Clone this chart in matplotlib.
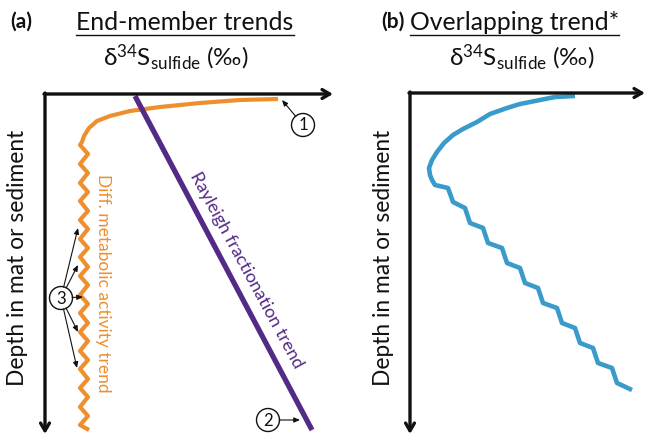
import matplotlib
matplotlib.use("Agg")
import matplotlib.pyplot as plt
from matplotlib.patches import Circle
from matplotlib.lines import Line2D

plt.rcParams['font.family'] = ['Lato', 'DejaVu Sans']
plt.rcParams['mathtext.fontset'] = 'custom'
plt.rcParams['mathtext.rm'] = 'Lato'
plt.rcParams['mathtext.it'] = 'Lato:italic'
plt.rcParams['mathtext.bf'] = 'Lato:bold'
plt.rcParams['mathtext.fallback'] = 'stixsans'

ORANGE = '#EE8F2D'
PURPLE = '#532A85'
BLUE = '#3A9BCB'
INK = '#111111'

# ---- data: schematic depth profiles (x = delta34S, y = depth; arbitrary units)
# (a) differential metabolic activity trend: smooth top part, then zigzag
orange_x = [233, 195, 155, 115, 85, 65, 52, 44, 39, 37, 35,
            43, 35, 43, 35, 43, 35, 43, 35, 43, 35, 43, 35, 43, 35, 43,
            35, 43, 35, 43, 35, 43, 35, 43, 35, 43, 35, 43, 35, 43, 35, 44]
orange_y = [5, 6, 9, 13, 17, 22, 27, 34, 42, 48, 51,
            60, 70, 79, 89, 98, 107, 117, 126, 135, 145, 154, 163, 173,
            182, 191, 201, 210, 219, 229, 238, 247, 257, 266, 275, 285,
            294, 303, 313, 322, 331, 336]

# (a) Rayleigh fractionation trend
purple_x = [90, 267]
purple_y = [2, 336]

# (b) overlapping trend: curved top, then a zigzag drifting to heavier values
blue_x = [165, 145, 130, 110, 97, 80, 67, 53, 43, 34, 27, 22, 19, 20, 22, 25,
          38, 43, 55, 60, 73, 78, 92, 97, 110, 115, 128, 133, 147, 152, 165,
          170, 183, 188, 202, 207, 222]
blue_y = [3, 4, 7, 11, 15, 21, 29, 36, 42, 50, 59, 67, 75, 82, 87, 92,
          95, 109, 115, 130, 135, 150, 155, 170, 175, 190, 195, 210, 215, 230,
          235, 250, 255, 270, 275, 290, 297]

# numbered call-outs: circle centres and arrow tips
callout1_center, callout1_tips = (258, 31), [(237, 6)]
callout2_center, callout2_tips = (223, 326), [(255, 326)]
callout3_center, callout3_tips = (16, 204), [(33, 134), (33, 171), (38, 203),
                                              (33, 238), (32, 274)]

W, H = 647, 437
fig = plt.figure(figsize=(W / 100, H / 100), dpi=100)


def make_axes(ox, oy, w, h):
    ax = fig.add_axes([ox / W, 1 - (oy + h) / H, w / W, h / H])
    ax.set_xlim(0, w)
    ax.set_ylim(h, 0)
    ax.axis('off')
    return ax


def draw_frame(ax, xlen, ylen):
    kw = dict(arrowstyle='->,head_length=0.55,head_width=0.32', lw=2.4,
              color=INK, shrinkA=0, shrinkB=0)
    ax.annotate('', xy=(xlen, 0), xytext=(-1, 0), arrowprops=kw,
                annotation_clip=False)
    ax.annotate('', xy=(0, ylen), xytext=(0, -1), arrowprops=kw,
                annotation_clip=False)


def callout(ax, label, center, tips):
    ax.add_patch(Circle(center, 11.5, fill=False, lw=1.0, color=INK,
                        clip_on=False))
    ax.text(center[0], center[1] + 0.5, label, ha='center', va='center',
            fontsize=12, color=INK)
    for tip in tips:
        ax.annotate('', xy=tip, xytext=center,
                    arrowprops=dict(arrowstyle='-|>,head_length=0.35,head_width=0.15',
                                    lw=0.8, color=INK, shrinkA=8,
                                    shrinkB=0), annotation_clip=False)


# ---- panel (a)
axa = make_axes(45, 94, 290, 343)
draw_frame(axa, 288, 340)
axa.plot(orange_x, orange_y, color=ORANGE, lw=3.0, solid_joinstyle='round',
         solid_capstyle='butt', clip_on=False)
axa.plot(purple_x, purple_y, color=PURPLE, lw=3.8, solid_capstyle='butt',
         clip_on=False)
callout(axa, '1', callout1_center, callout1_tips)
callout(axa, '2', callout2_center, callout2_tips)
callout(axa, '3', callout3_center, callout3_tips)
axa.text(201, 176, 'Rayleigh fractionation trend', color=PURPLE, fontsize=13,
         rotation=-61.6, rotation_mode='anchor', ha='center', va='center')
axa.text(58, 189, 'Diff. metabolic activity trend', color=ORANGE, fontsize=12.5,
         rotation=-90, rotation_mode='anchor', ha='center', va='center')
axa.text(-27, 164, 'Depth in mat or sediment', color=INK, fontsize=16.4,
         rotation=90, rotation_mode='anchor', ha='center', va='center')

# ---- panel (b)
axb = make_axes(410, 93, 237, 344)
draw_frame(axb, 235, 341)
axb.plot(blue_x, blue_y, color=BLUE, lw=3.3, solid_joinstyle='round',
         solid_capstyle='butt', clip_on=False)
axb.text(-27, 165, 'Depth in mat or sediment', color=INK, fontsize=16.4,
         rotation=90, rotation_mode='anchor', ha='center', va='center')


# ---- headings
def fx(px):
    return px / W


def fy(py):
    return 1 - py / H


fig.text(fx(10), fy(22), '(a)', fontsize=15, fontweight='bold', va='center',
         color=INK)
fig.text(fx(381), fy(22), '(b)', fontsize=15, fontweight='bold', va='center',
         color=INK)
ta = fig.text(fx(185), fy(22), 'End-member trends', fontsize=17.8,
              ha='center', va='center', color=INK)
tb = fig.text(fx(410), fy(22), 'Overlapping trend*', fontsize=17.8,
              ha='left', va='center', color=INK)

axis_label = r'$\mathrm{\delta^{34}S_{sulfide}}$ (‰)'
fig.text(fx(176), fy(65), axis_label, fontsize=17.5, ha='center',
         va='baseline', color=INK)
fig.text(fx(522), fy(65), axis_label, fontsize=17.5, ha='center',
         va='baseline', color=INK)

# underline the headings
fig.canvas.draw()
r = fig.canvas.get_renderer()
for t in (ta, tb):
    bb = t.get_window_extent(r)
    x0, x1 = bb.x0 / W, min(bb.x1, W + 20) / W
    yline = fy(34.5)
    fig.add_artist(Line2D([x0, x1], [yline, yline], lw=1.0, color=INK))

fig.savefig('out.png', dpi=100)
